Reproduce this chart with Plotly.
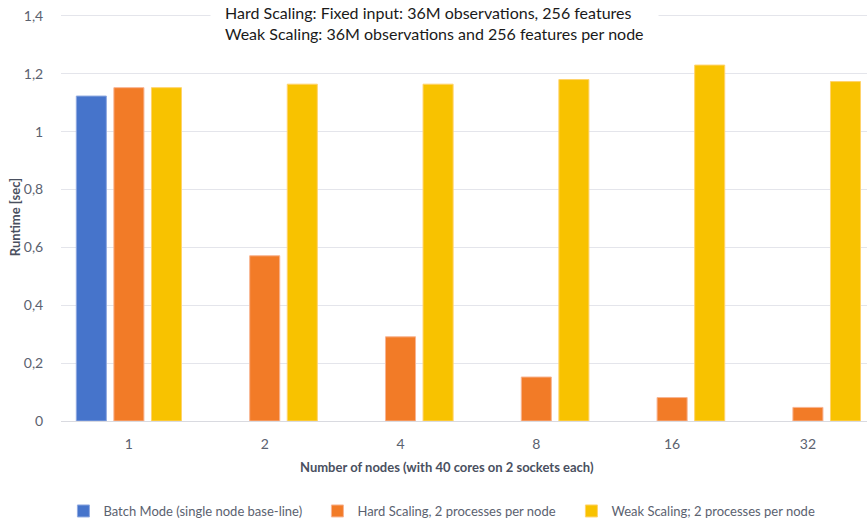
import plotly.graph_objects as go

categories = ["1", "2", "4", "8", "16", "32"]
batch = [1.123, None, None, None, None, None]
hard = [1.152, 0.571, 0.291, 0.152, 0.081, 0.047]
weak = [1.152, 1.164, 1.164, 1.180, 1.230, 1.173]
series_names = ["Batch Mode (single node base-line)",
                "Hard Scaling, 2 processes per node",
                "Weak Scaling; 2 processes per node"]
title_lines = ["Hard Scaling: Fixed input: 36M observations, 256 features",
               "Weak Scaling: 36M observations and 256 features per node"]
x_title = "Number of nodes (with 40 cores on 2 sockets each)"
y_title = "Runtime [sec]"

FONT = "Lato, sans-serif"
TXT = "#5B6270"

fills = ["#4674CB", "#F27B27", "#F8C200"]
lines = ["#8FA9E0", "#F8B492", "#FFD36B"]

fig = go.Figure()
for name, vals, fc, lc in zip(series_names, [batch, hard, weak], fills, lines):
    fig.add_trace(go.Bar(x=categories, y=vals, name=name,
                         marker=dict(color=fc, line=dict(color=lc, width=1))))

fig.update_layout(
    width=867, height=519,
    margin=dict(l=61, r=0, t=13, b=98, autoexpand=False),
    paper_bgcolor="white", plot_bgcolor="white",
    barmode="group", bargap=0.17, bargroupgap=0.2,
    separators=", ",
    font=dict(family=FONT, size=14, color=TXT),
    showlegend=True,
    legend=dict(orientation="h", x=0.003, xanchor="left", y=-0.2206, yanchor="middle",
                font=dict(family=FONT, size=13, color=TXT),
                entrywidth=209, entrywidthmode="pixels", itemwidth=30,
                traceorder="normal"),
    xaxis=dict(type="category", range=[-0.5, 5.435], showgrid=False,
               showline=False, ticks="outside", ticklen=10, tickcolor="rgba(0,0,0,0)",
               tickfont=dict(family=FONT, size=14, color=TXT)),
    yaxis=dict(range=[0, 1.41], tickvals=[0, 0.2, 0.4, 0.6, 0.8, 1.0, 1.2, 1.4],
               showgrid=True, gridcolor="#E4E5EB",
               gridwidth=1, zeroline=True, zerolinecolor="#D9DAE0", zerolinewidth=1,
               ticks="outside", ticklen=14, tickcolor="rgba(0,0,0,0)",
               tickfont=dict(family=FONT, size=14, color=TXT),
               title=dict(text="<b>" + y_title + "</b>", standoff=0,
                          font=dict(family=FONT, size=13, color="#4A5060"))),
)

fig.add_annotation(xref="paper", yref="paper", x=0.463, y=0.9767,
                   xanchor="center", yanchor="middle",
                   text="<br>".join(title_lines), align="left", showarrow=False,
                   bgcolor="white", borderpad=14,
                   font=dict(family=FONT, size=16, color="#1A1A1A"))
fig.add_annotation(xref="paper", yref="paper", x=0.479, y=-0.1127,
                   xanchor="center", yanchor="middle",
                   text="<b>" + x_title + "</b>", showarrow=False,
                   font=dict(family=FONT, size=13, color="#4A5060"))

fig.write_html("out.html")
